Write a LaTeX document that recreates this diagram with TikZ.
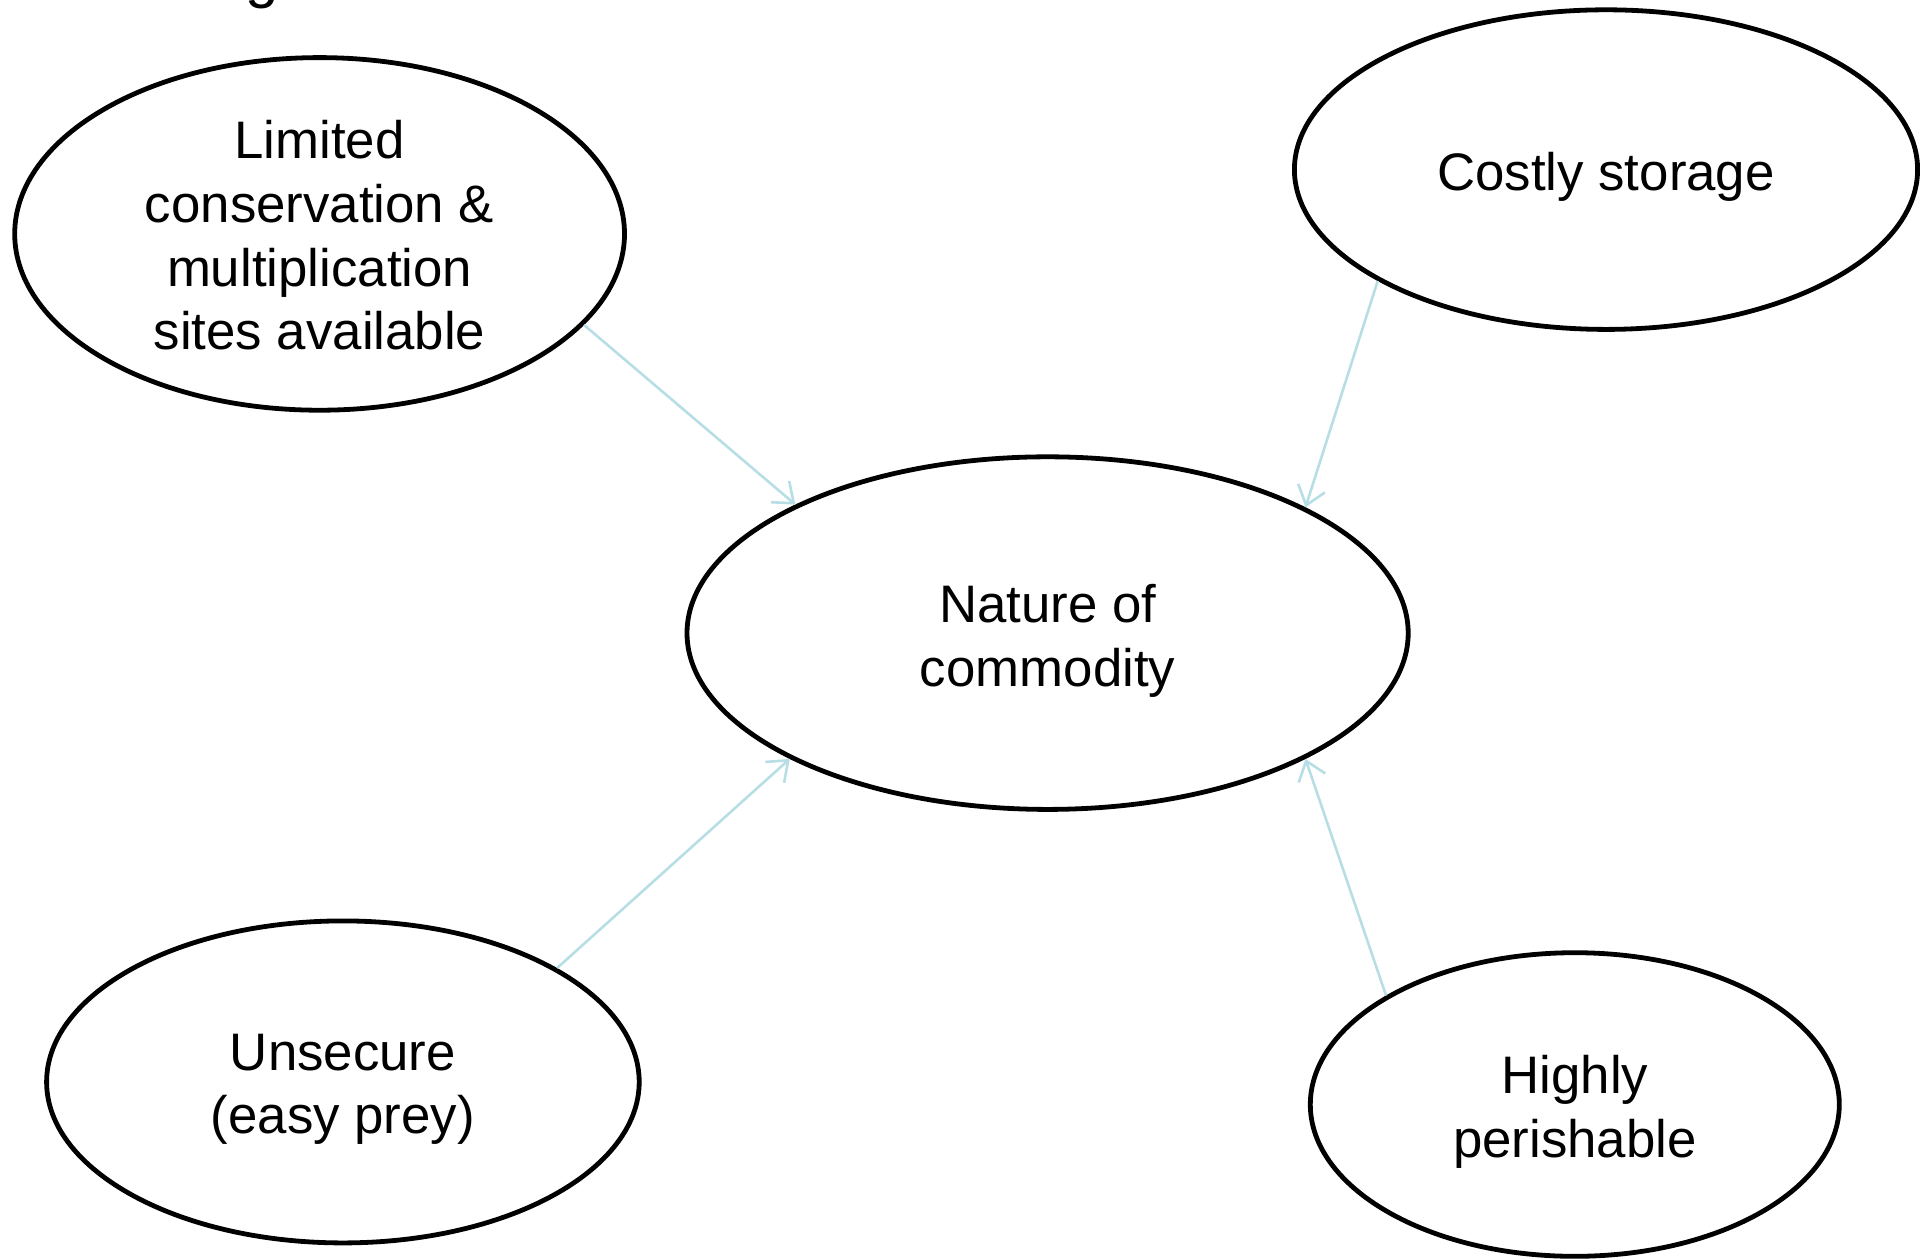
\documentclass[tikz,border=0pt]{standalone}
\usepackage{fontspec}
\setmainfont{Liberation Sans}
\usetikzlibrary{shapes.geometric,arrows.meta}
\definecolor{arrowblue}{RGB}{183,222,228}
\tikzset{
  bubble/.style={draw=black, line width=2.4pt, ellipse, inner sep=0pt},
  bubbletext/.style={align=center, inner sep=0pt, yshift=-3.7pt,
    font=\fontsize{26.4}{31.9}\selectfont},
  link/.style={draw=arrowblue, line width=1.3pt, -{Straight Barb[length=9pt,width=14pt,line width=1.3pt]}}
}
\begin{document}
\begin{tikzpicture}[x=0.5pt,y=-0.5pt]
\useasboundingbox (0,0) rectangle (1920,1259);
\node[font=\fontsize{30}{36}\selectfont, anchor=base] (title) at (262,-4) {g};
\node[bubble, minimum width=609.8pt/2, minimum height=352.6pt/2,
  label={[bubbletext, yshift=3pt]center:Limited\\conservation \&\\multiplication\\sites available}] (lim) at (319.6,233.9) {};
\node[bubble, minimum width=623.2pt/2, minimum height=319.6pt/2,
  label={[bubbletext]center:Costly storage}] (cost) at (1606,169.6) {};
\node[bubble, minimum width=721.2pt/2, minimum height=352.6pt/2,
  label={[bubbletext]center:Nature of\\commodity}] (nat) at (1047.6,633.1) {};
\node[bubble, minimum width=592.6pt/2, minimum height=322pt/2,
  label={[bubbletext]center:Unsecure\\(easy prey)}] (uns) at (342.9,1081.9) {};
\node[bubble, minimum width=529pt/2, minimum height=303.6pt/2,
  label={[bubbletext]center:Highly\\perishable}] (hig) at (1574.8,1104.5) {};
\draw[link] (lim.-19.3) -- (nat.153.7);
\draw[link] (cost.206.3) -- (nat.26.3);
\draw[link] (hig.150.3) -- (nat.-26.5);
\draw[link] (uns.28.1) -- (nat.206.5);
\end{tikzpicture}
\end{document}
